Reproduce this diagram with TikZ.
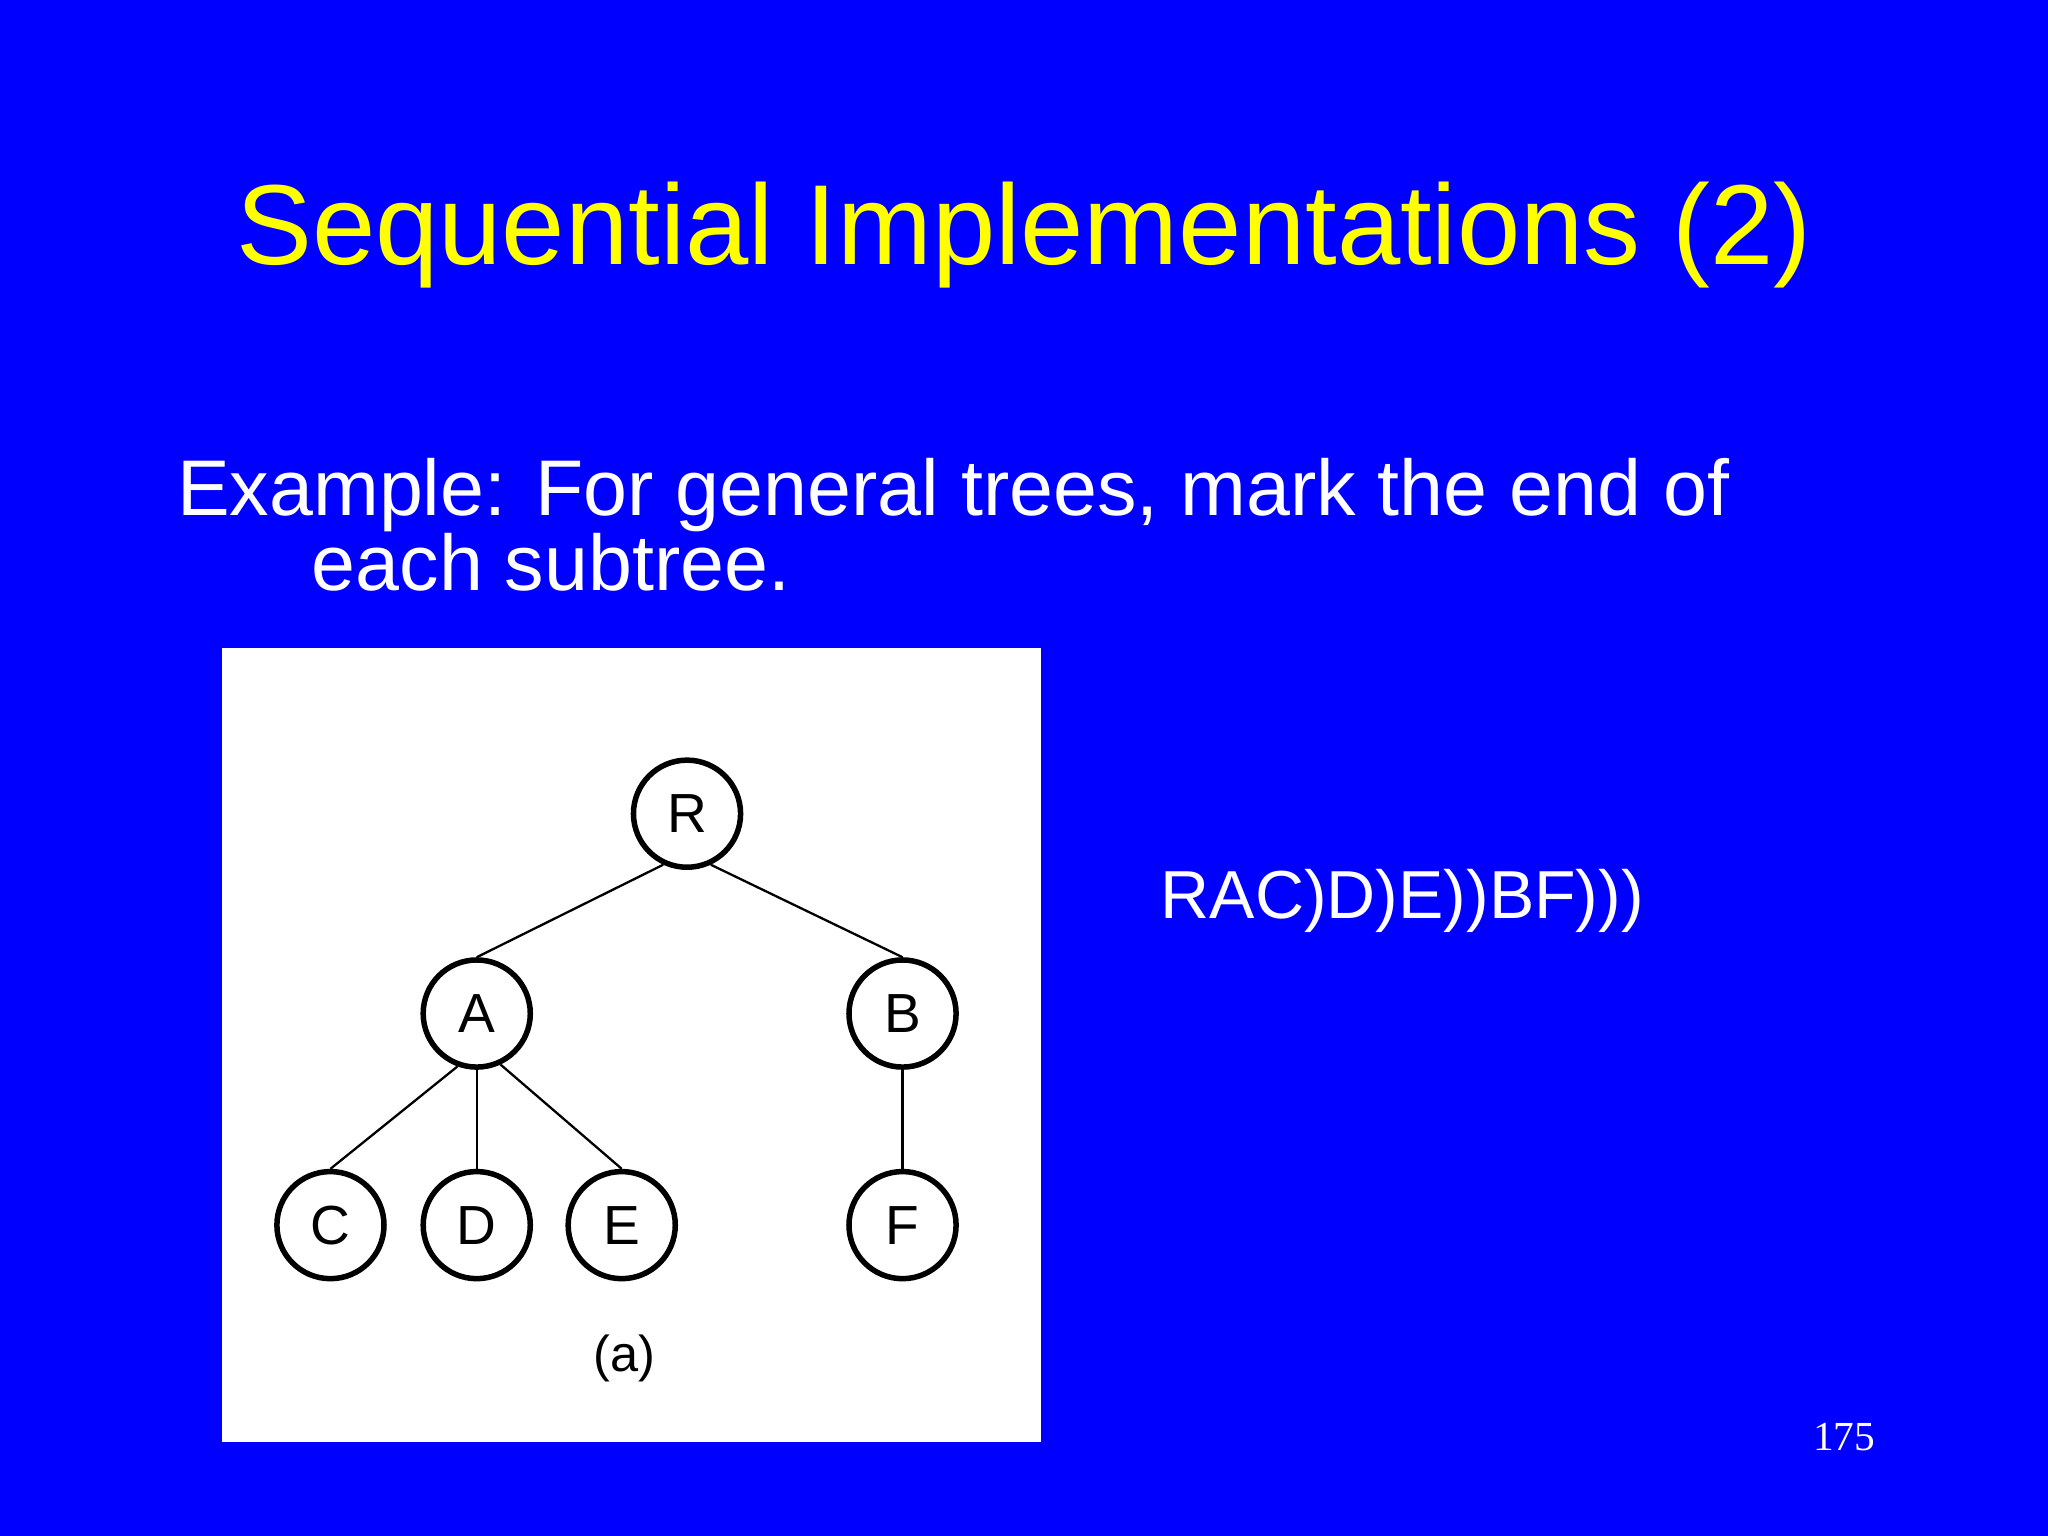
\documentclass[tikz,border=0pt]{standalone}
\usepackage{fontspec}
\setmainfont{Liberation Sans}
\newfontfamily\serifnum{Liberation Serif}
\usetikzlibrary{positioning}

\definecolor{slideblue}{RGB}{0,0,255}
\definecolor{titleyellow}{RGB}{255,255,0}

\tikzset{
  treenode/.style={circle, draw, line width=1.2pt, minimum size=0.82cm, inner sep=0pt, font=\fontsize{12}{14}\selectfont},
  treeedge/.style={line width=0.5pt}
}

\begin{document}
\begin{tikzpicture}[x=1cm,y=1cm]

        \useasboundingbox (0,0) rectangle (15.68,11.76);
        \path[fill=slideblue] (0,0) rectangle (15.68,11.76);

        \node[text=titleyellow, font=\fontsize{24.8}{28}\selectfont] (title) at (7.84,9.96) {Sequential Implementations (2)};

        \node[text=white, anchor=base west, inner sep=0pt, font=\fontsize{17.2}{20}\selectfont] (line1) at (1.35,7.81) {Example: For general trees, mark the end of};
        \node[text=white, anchor=base west, inner sep=0pt, font=\fontsize{17.2}{20}\selectfont] (line2) at (2.38,7.24) {each subtree.};

        \path[fill=white] (1.70,0.72) rectangle (7.97,6.80);

        % tree
        \node[treenode] (R) at (5.26,5.53) {R};
        \node[treenode] (A) at (3.65,4.00) {A};
        \node[treenode] (B) at (6.91,4.00) {B};
        \node[treenode] (C) at (2.53,2.38) {C};
        \node[treenode] (D) at (3.65,2.38) {D};
        \node[treenode] (E) at (4.76,2.38) {E};
        \node[treenode] (F) at (6.91,2.38) {F};

        \draw[treeedge] (R.245) -- (A.north);
        \draw[treeedge] (R.295) -- (B.north);
        \draw[treeedge] (A.250) -- (C.north);
        \draw[treeedge] (A.south) -- (D.north);
        \draw[treeedge] (A.295) -- (E.north);
        \draw[treeedge] (B.south) -- (F.north);

        \node[font=\fontsize{11}{13}\selectfont] (caption) at (4.78,1.36) {(a)};

        \node[text=white, anchor=west, inner sep=0pt, font=\fontsize{14.8}{18}\selectfont] (seq) at (8.88,4.86) {RAC)D)E))BF)))};

        \node[text=white, font=\serifnum\fontsize{9}{10}\selectfont] (pagenum) at (14.12,0.76) {175};

    \end{tikzpicture}
\end{document}
